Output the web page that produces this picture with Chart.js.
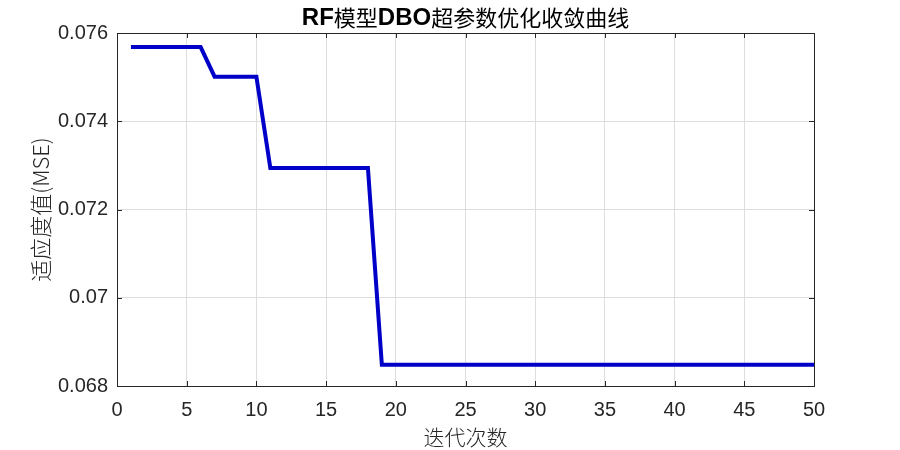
<!DOCTYPE html>
<html>
<head>
<meta charset="utf-8">
<script src="https://cdn.jsdelivr.net/npm/chart.js@4"></script>
<style>
  html, body { margin: 0; padding: 0; background: #fff; }
  #wrap { width: 900px; height: 450px; }
</style>
</head>
<body>
<div id="wrap"><canvas id="myChart"></canvas></div>
<script>
const iterations = [1,2,3,4,5,6,7,8,9,10,11,12,13,14,15,16,17,18,19,20,
  21,22,23,24,25,26,27,28,29,30,31,32,33,34,35,36,37,38,39,40,
  41,42,43,44,45,46,47,48,49,50];
const fitness = [0.07568,0.07568,0.07568,0.07568,0.07568,0.07568,
  0.07501,0.07501,0.07501,0.07501,
  0.07294,0.07294,0.07294,0.07294,0.07294,0.07294,0.07294,0.07294,
  0.06848,0.06848,0.06848,0.06848,0.06848,0.06848,0.06848,0.06848,0.06848,0.06848,
  0.06848,0.06848,0.06848,0.06848,0.06848,0.06848,0.06848,0.06848,0.06848,0.06848,
  0.06848,0.06848,0.06848,0.06848,0.06848,0.06848,0.06848,0.06848,0.06848,0.06848,
  0.06848,0.06848];
const xTicks = [0,5,10,15,20,25,30,35,40,45,50];
const yTicks = [0.068,0.07,0.072,0.074,0.076];

// title pieces: latin parts bold, chinese parts regular (as in the matlab figure)
const titleParts = [['RF', true], ['模型', false], ['DBO', true], ['超参数优化收敛曲线', false]];
const xLabel = '迭代次数';
const yLabel = '适应度值(MSE)';

const tickFont = { family: 'Liberation Sans, Arial, sans-serif', size: 20 };
const cjkFont = '"Noto Sans CJK SC", sans-serif';

const titlePlugin = {
  id: 'mixedTitle',
  afterDraw(chart) {
    const ctx = chart.ctx;
    const a = chart.chartArea;
    ctx.save();
    ctx.fillStyle = '#000';
    ctx.textBaseline = 'middle';
    ctx.textAlign = 'left';
    const fontOf = bold => bold ? 'bold 24px "Liberation Sans", Arial, sans-serif'
                                : '22px ' + cjkFont;
    let total = 0;
    titleParts.forEach(p => { ctx.font = fontOf(p[1]); total += ctx.measureText(p[0]).width; });
    let x = (a.left + a.right) / 2 - total / 2;
    titleParts.forEach(p => {
      ctx.font = fontOf(p[1]);
      ctx.fillText(p[0], x, 18);
      x += ctx.measureText(p[0]).width;
    });
    ctx.restore();
  }
};

// box round the plot area plus inward ticks, matlab style
const boxPlugin = {
  id: 'box',
  afterDraw(chart) {
    const ctx = chart.ctx;
    const a = chart.chartArea;
    const xs = chart.scales.x, ys = chart.scales.y;
    ctx.save();
    ctx.strokeStyle = '#262626';
    ctx.lineWidth = 1;
    ctx.beginPath();
    xTicks.forEach(v => {
      const px = Math.round(xs.getPixelForValue(v)) + 0.5;
      ctx.moveTo(px, a.bottom); ctx.lineTo(px, a.bottom - 5);
      ctx.moveTo(px, a.top); ctx.lineTo(px, a.top + 5);
    });
    yTicks.forEach(v => {
      const py = Math.round(ys.getPixelForValue(v)) + 0.5;
      ctx.moveTo(a.left, py); ctx.lineTo(a.left + 5, py);
      ctx.moveTo(a.right, py); ctx.lineTo(a.right - 5, py);
    });
    ctx.stroke();
    ctx.strokeRect(Math.round(a.left) + 0.5, Math.round(a.top) + 0.5,
      Math.round(a.right - a.left), Math.round(a.bottom - a.top));
    ctx.restore();
  }
};

const data = {
  datasets: [{
    data: iterations.map((x, i) => ({ x: x, y: fitness[i] })),
    borderColor: '#0000C8',
    borderWidth: 4,
    pointRadius: 0,
    fill: false,
    tension: 0,
  }]
};

const config = {
  type: 'line',
  data: data,
  plugins: [boxPlugin, titlePlugin],
  options: {
    responsive: true,
    maintainAspectRatio: false,
    animation: false,
    layout: { padding: { left: 0, right: 86, top: 33, bottom: 0 } },
    plugins: {
      legend: { display: false },
      tooltip: { enabled: false },
      title: { display: false },
    },
    scales: {
      x: {
        type: 'linear',
        min: 0,
        max: 50,
        afterBuildTicks: s => { s.ticks = xTicks.map(v => ({ value: v })); },
        afterFit: s => { s.height = 64; },
        grid: { color: '#dedede', drawTicks: false },
        border: { color: '#262626' },
        ticks: { color: '#262626', font: tickFont, padding: 12, maxRotation: 0 },
        title: {
          display: true,
          text: xLabel,
          color: '#262626',
          font: { family: cjkFont, size: 21, weight: 300 },
          padding: { top: 0, bottom: 0 },
        },
      },
      y: {
        min: 0.068,
        max: 0.076,
        afterBuildTicks: s => { s.ticks = yTicks.map(v => ({ value: v })); },
        afterFit: s => { s.width = 117; },
        grid: { color: '#dedede', drawTicks: false },
        border: { color: '#262626' },
        ticks: {
          color: '#262626',
          font: tickFont,
          padding: 9,
          callback: v => parseFloat(v.toFixed(3)).toString(),
        },
        title: {
          display: true,
          text: yLabel,
          color: '#262626',
          font: { family: cjkFont, size: 22, weight: 300 },
          padding: { top: 27, bottom: 0 },
        },
      },
    },
  },
};

const myChart = new Chart(document.getElementById('myChart'), config);
</script>
</body>
</html>
